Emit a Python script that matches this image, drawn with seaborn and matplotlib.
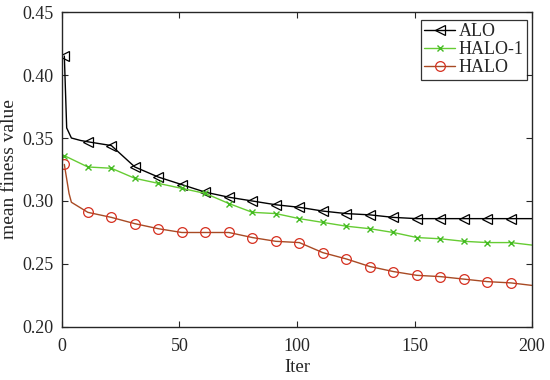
import numpy as np
import pandas as pd
import matplotlib
matplotlib.use("Agg")
import matplotlib.pyplot as plt
import seaborn as sns

# values (iteration, mean fitness)
alo_iter = [1, 2, 4, 8, 11, 21, 31, 41, 51, 61, 71, 81, 91, 101, 111, 121, 131, 141, 151, 161, 171, 181, 191, 200]
alo_val = [0.415, 0.358, 0.350, 0.348, 0.347, 0.344, 0.327, 0.319, 0.313, 0.307, 0.303, 0.300, 0.297,
           0.295, 0.292, 0.290, 0.289, 0.287, 0.286, 0.286, 0.286, 0.286, 0.286, 0.286]

halo1_iter = [1, 11, 21, 31, 41, 51, 61, 71, 81, 91, 101, 111, 121, 131, 141, 151, 161, 171, 181, 191, 200]
halo1_val = [0.336, 0.327, 0.326, 0.318, 0.314, 0.310, 0.306, 0.298, 0.291, 0.290, 0.286, 0.283,
             0.280, 0.278, 0.275, 0.271, 0.270, 0.268, 0.267, 0.267, 0.265]

halo_iter = [1, 3, 4, 11, 21, 31, 41, 51, 61, 71, 81, 91, 101, 111, 121, 131, 141, 151, 161, 171, 181, 191, 200]
halo_val = [0.329, 0.306, 0.299, 0.291, 0.287, 0.282, 0.278, 0.275, 0.275, 0.275, 0.271, 0.268, 0.267,
            0.259, 0.254, 0.248, 0.244, 0.241, 0.240, 0.238, 0.236, 0.235, 0.233]

sns.set_style("ticks")
plt.rcParams['font.family'] = ['Liberation Serif', 'DejaVu Serif']

fig = plt.figure(figsize=(5.5, 3.8), dpi=100)
ax = fig.add_axes([0.1127, 0.1395, 0.8546, 0.8289])


def marks(iters):
    return [i for i, it in enumerate(iters) if (it - 1) % 10 == 0 and it < 200]


sns.lineplot(x=alo_iter, y=alo_val, ax=ax, color='black', lw=1.0, marker='<', markersize=7,
             markerfacecolor='none', markeredgecolor='black', markeredgewidth=0.9,
             markevery=marks(alo_iter), label='ALO')
sns.lineplot(x=halo1_iter, y=halo1_val, ax=ax, color='#66cc33', lw=1.0, marker='x', markersize=4,
             markeredgecolor='#44bb22', markeredgewidth=1.0,
             markevery=marks(halo1_iter), label='HALO-1')
sns.lineplot(x=halo_iter, y=halo_val, ax=ax, color='#a84a24', lw=1.0, marker='o', markersize=7,
             markerfacecolor='none', markeredgecolor='#d63020', markeredgewidth=0.9,
             markevery=marks(halo_iter), label='HALO')

ax.set_xlim(0, 200)
ax.set_ylim(0.20, 0.45)
ax.set_xticks([0, 50, 100, 150, 200])
ax.set_yticks([0.20, 0.25, 0.30, 0.35, 0.40, 0.45])
ax.set_yticklabels([f"{v:.2f}" for v in [0.20, 0.25, 0.30, 0.35, 0.40, 0.45]])
ax.tick_params(direction='in', top=True, right=True, labelsize=13, length=4, width=0.8)
ax.tick_params(axis='x', pad=8)
ax.tick_params(axis='y', pad=6)
for s in ax.spines.values():
    s.set_linewidth(1.0)
    s.set_color('#262626')

ax.set_xlabel('Iter', fontsize=13.5, labelpad=3)
ax.set_ylabel('mean finess value', fontsize=14, labelpad=3)

leg = ax.legend(loc='upper right', fontsize=13, frameon=True, fancybox=False, edgecolor='black',
                borderpad=0.2, labelspacing=0.05, handlelength=1.7, handletextpad=0.2,
                borderaxespad=0.0, bbox_to_anchor=(0.99, 0.975))
leg.get_frame().set_linewidth(0.9)

fig.savefig('out.png', dpi=100)
